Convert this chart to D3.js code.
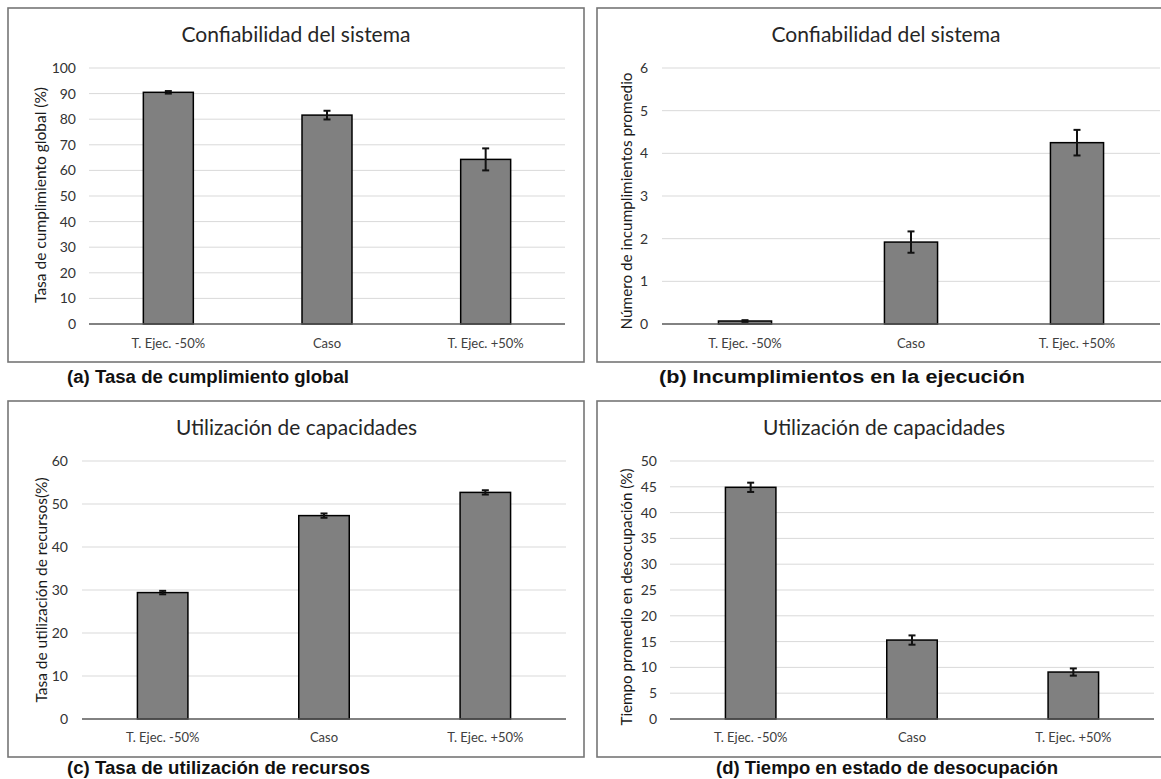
<!DOCTYPE html>
<html>
<head>
<meta charset="utf-8">
<script src="https://cdn.jsdelivr.net/npm/d3@7"></script>
<style>
  html, body { margin: 0; padding: 0; background: #fff; }
  svg { display: block; }
  .title { font-family: Lato, "Open Sans", sans-serif; font-size: 21px; fill: #262626; }
  .ylab { font-family: Lato, "Open Sans", sans-serif; font-size: 15px; fill: #1a1a1a; }
  .tick text { font-family: Lato, "Open Sans", sans-serif; font-size: 14px; fill: #333; }
  .cat { font-family: Lato, "Open Sans", sans-serif; font-size: 13px; fill: #404040; }
  .caption { font-family: "Liberation Sans", Arial, sans-serif; font-weight: bold; font-size: 17.5px; fill: #111; }
</style>
</head>
<body>
<svg id="chart" width="1161" height="779"></svg>
<script>
// Scenarios compared in every panel
const categories = ["T. Ejec. -50%", "Caso", "T. Ejec. +50%"];

// (a) Overall compliance rate (%)
const cumplimiento = [90.5, 81.6, 64.3];
const cumplimientoErr = [0.5, 1.7, 4.3];
const cumplimientoTicks = [0, 10, 20, 30, 40, 50, 60, 70, 80, 90, 100];

// (b) Average number of execution failures
const incumplimientos = [0.07, 1.92, 4.25];
const incumplimientosErr = [0.02, 0.25, 0.3];
const incumplimientosTicks = [0, 1, 2, 3, 4, 5, 6];

// (c) Resource utilisation rate (%)
const utilizacion = [29.4, 47.3, 52.7];
const utilizacionErr = [0.4, 0.5, 0.5];
const utilizacionTicks = [0, 10, 20, 30, 40, 50, 60];

// (d) Average idle time (%)
const desocupacion = [44.9, 15.3, 9.1];
const desocupacionErr = [0.9, 0.9, 0.7];
const desocupacionTicks = [0, 5, 10, 15, 20, 25, 30, 35, 40, 45, 50];

const svg = d3.select("#chart");

const panels = [
  {
    box: [8, 8, 584, 362], plot: { x0: 89, x1: 565, yTop: 68, yZero: 324 },
    title: "Confiabilidad del sistema", titleX: 296, titleY: 42, titleLen: 229,
    ylabel: "Tasa de cumplimiento global (%)", ylabX: 41, ylabY: 195, ylabLen: 216,
    caption: "(a) Tasa de cumplimiento global", captionX: 67, captionY: 383, captionLen: 282,
    values: cumplimiento, errors: cumplimientoErr, ticks: cumplimientoTicks,
    catY: 348, tickX: 76, barW: 0.315
  },
  {
    box: [597, 8, 1170, 362], plot: { x0: 662, x1: 1160, yTop: 68, yZero: 324 },
    title: "Confiabilidad del sistema", titleX: 886, titleY: 42, titleLen: 229,
    ylabel: "Número de incumplimientos promedio", ylabX: 627, ylabY: 201, ylabLen: 257,
    caption: "(b) Incumplimientos en la ejecución", captionX: 659, captionY: 383, captionLen: 366,
    values: incumplimientos, errors: incumplimientosErr, ticks: incumplimientosTicks,
    catY: 348, tickX: 648, barW: 0.32
  },
  {
    box: [8, 401, 584, 757], plot: { x0: 82, x1: 566, yTop: 461, yZero: 719 },
    title: "Utilización de capacidades", titleX: 296.5, titleY: 435, titleLen: 241,
    ylabel: "Tasa de utilización de recursos(%)", ylabX: 42, ylabY: 590, ylabLen: 225,
    caption: "(c) Tasa de utilización de recursos", captionX: 67, captionY: 774, captionLen: 303,
    values: utilizacion, errors: utilizacionErr, ticks: utilizacionTicks,
    catY: 742, tickX: 68, barW: 0.313
  },
  {
    box: [597, 401, 1170, 757], plot: { x0: 670, x1: 1154, yTop: 461, yZero: 719 },
    title: "Utilización de capacidades", titleX: 884, titleY: 435, titleLen: 242,
    ylabel: "Tiempo promedio en desocupación (%)", ylabX: 627, ylabY: 597, ylabLen: 257,
    caption: "(d) Tiempo en estado de desocupación", captionX: 716, captionY: 774, captionLen: 342,
    values: desocupacion, errors: desocupacionErr, ticks: desocupacionTicks,
    catY: 742, tickX: 657, barW: 0.313
  }
];

panels.forEach(p => {
  const g = svg.append("g");
  const [bx0, by0, bx1, by1] = p.box;

  // panel frame
  g.append("rect")
    .attr("x", bx0).attr("y", by0)
    .attr("width", bx1 - bx0).attr("height", by1 - by0)
    .attr("fill", "#fff").attr("stroke", "#767676").attr("stroke-width", 1.6);

  const x = d3.scaleBand().domain(categories).range([p.plot.x0, p.plot.x1]).padding(0);
  const yMax = p.ticks[p.ticks.length - 1];
  const y = d3.scaleLinear().domain([0, yMax]).range([p.plot.yZero, p.plot.yTop]);

  // horizontal gridlines
  g.append("g").selectAll("line").data(p.ticks.filter(t => t > 0)).join("line")
    .attr("x1", p.plot.x0).attr("x2", p.plot.x1)
    .attr("y1", d => y(d)).attr("y2", d => y(d))
    .attr("stroke", "#d9d9d9").attr("stroke-width", 1);

  // y tick labels
  const yAxis = d3.axisLeft(y).tickValues(p.ticks).tickFormat(d3.format("d"))
    .tickSize(0).tickPadding(0);
  const ya = g.append("g").attr("transform", `translate(${p.tickX},0)`).call(yAxis);
  ya.select(".domain").remove();

  // bars
  const bw = x.bandwidth() * p.barW;
  g.append("g").selectAll("rect").data(p.values).join("rect")
    .attr("x", (d, i) => x(categories[i]) + x.bandwidth() / 2 - bw / 2)
    .attr("y", d => y(d))
    .attr("width", bw)
    .attr("height", d => y(0) - y(d))
    .attr("fill", "#808080").attr("stroke", "#000").attr("stroke-width", 1.5);

  // category axis baseline
  g.append("line")
    .attr("x1", p.plot.x0).attr("x2", p.plot.x1)
    .attr("y1", y(0)).attr("y2", y(0))
    .attr("stroke", "#595959").attr("stroke-width", 1.3);

  // error bars
  const eb = g.append("g").attr("stroke", "#111").attr("stroke-width", 2);
  p.values.forEach((v, i) => {
    const cx = x(categories[i]) + x.bandwidth() / 2;
    const e = p.errors[i];
    eb.append("line").attr("x1", cx).attr("x2", cx).attr("y1", y(v - e)).attr("y2", y(v + e));
    eb.append("line").attr("x1", cx - 3.5).attr("x2", cx + 3.5).attr("y1", y(v - e)).attr("y2", y(v - e));
    eb.append("line").attr("x1", cx - 3.5).attr("x2", cx + 3.5).attr("y1", y(v + e)).attr("y2", y(v + e));
  });

  // category labels
  g.append("g").selectAll("text").data(categories).join("text")
    .attr("class", "cat")
    .attr("x", d => x(d) + x.bandwidth() / 2)
    .attr("y", p.catY)
    .attr("text-anchor", "middle")
    .text(d => d);

  // chart title
  g.append("text").attr("class", "title")
    .attr("x", p.titleX)
    .attr("y", p.titleY)
    .attr("text-anchor", "middle")
    .attr("textLength", p.titleLen).attr("lengthAdjust", "spacingAndGlyphs")
    .text(p.title);

  // y-axis label
  g.append("text").attr("class", "ylab")
    .attr("transform", `translate(${p.ylabX},${p.ylabY}) rotate(-90)`)
    .attr("text-anchor", "middle")
    .attr("dy", "0.35em")
    .attr("textLength", p.ylabLen).attr("lengthAdjust", "spacingAndGlyphs")
    .text(p.ylabel);

  // caption under the panel
  svg.append("text").attr("class", "caption")
    .attr("x", p.captionX).attr("y", p.captionY)
    .attr("textLength", p.captionLen).attr("lengthAdjust", "spacingAndGlyphs")
    .text(p.caption);
});
</script>
</body>
</html>
